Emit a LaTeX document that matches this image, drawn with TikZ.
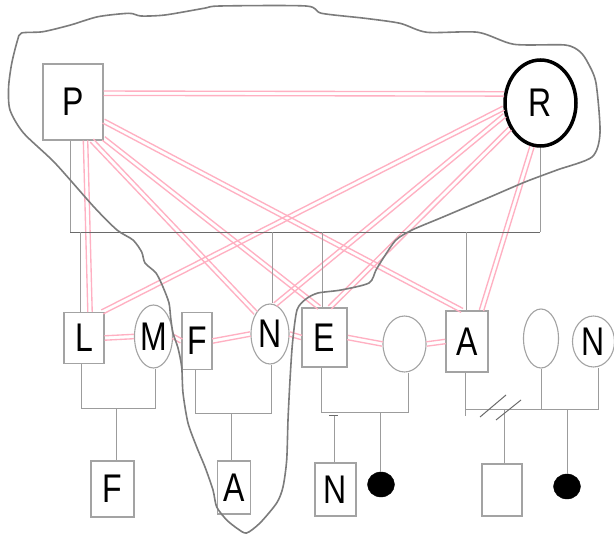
\documentclass[tikz,border=0pt]{standalone}
\usepackage{fontspec}
\newfontfamily\labfont[FakeStretch=0.8]{Liberation Sans}
\usetikzlibrary{calc,shapes.geometric}
\definecolor{boxgray}{HTML}{A3A3A3}
\definecolor{kingray}{HTML}{9C9C9C}
\definecolor{darkline}{HTML}{6A6A6A}
\definecolor{outlinegray}{HTML}{7C7C7C}
\definecolor{relpink}{HTML}{FFB0C2}
\tikzset{
  person/.style={draw=boxgray, line width=1.1pt, fill=white, inner sep=0pt,
    font=\labfont\fontsize{40}{40}\selectfont, text=black},
  malebox/.style={person, rectangle},
  femaleell/.style={person, ellipse},
  blackdot/.style={ellipse, draw=black, fill=black, inner sep=0pt},
  rel/.style={draw=relpink, line width=1.35pt},
  kin/.style={draw=kingray, line width=1pt},
  hubline/.style={draw=darkline, line width=1pt},
  hull/.style={draw=outlinegray, line width=1.6pt, line join=round},
}
\newcommand\relline[2]{%
  \draw[rel] ($(#1)!2.2pt!90:(#2)$) -- ($(#2)!2.2pt!-90:(#1)$);
  \draw[rel] ($(#1)!2.2pt!-90:(#2)$) -- ($(#2)!2.2pt!90:(#1)$);}
\begin{document}
\begin{tikzpicture}[x=1pt,y=-1pt]
\useasboundingbox (0,0) rectangle (614,535);
\fill[white] (0,0) rectangle (614,535);
% nodes
\node[malebox, minimum width=60, minimum height=76] (P) at (73,102) {P};
\node[ellipse, draw=black, line width=3.5pt, fill=white, inner sep=0pt,
  minimum width=71, minimum height=86, font=\labfont\fontsize{40}{40}\selectfont] (R) at (540.5,103) {R};
\node[malebox, minimum width=40, minimum height=51] (L) at (84,338) {L};
\node[femaleell, minimum width=38, minimum height=63] (M) at (153.5,336.5) {M};
\node[malebox, minimum width=30, minimum height=57] (F) at (197,341) {F};
\node[femaleell, minimum width=38, minimum height=60] (N1) at (270,334) {N};
\node[malebox, minimum width=45, minimum height=59] (E) at (324.5,337.5) {E};
\node[femaleell, minimum width=43, minimum height=56] (W1) at (404.5,344) {};
\node[malebox, minimum width=42, minimum height=61] (A) at (467,341.5) {A};
\node[femaleell, minimum width=35, minimum height=59] (W2) at (541,338.5) {};
\node[femaleell, minimum width=42, minimum height=51] (N2) at (593.5,341.5) {N};
\node[malebox, minimum width=43, minimum height=56] (F2) at (112.5,489) {F};
\node[malebox, minimum width=33, minimum height=53] (A2) at (234,487.5) {A};
\node[malebox, minimum width=41, minimum height=53] (N3) at (335.5,489.5) {N};
\node[blackdot, minimum width=27, minimum height=25] (D1) at (381,484.5) {};
\node[malebox, minimum width=40, minimum height=52] (B) at (502,490) {};
\node[blackdot, minimum width=27, minimum height=25] (D2) at (567,486.5) {};
% relationship double lines
\relline{P.16}{R.166}
\relline{P.-72}{L.77}
\relline{P.-64}{N1.124}
\relline{P.-50}{E.100}
\relline{P.-32}{A.99}
\relline{R.188}{L.55}
\relline{R.199}{N1.80}
\relline{R.220}{E.80}
\relline{R.259}{A.65}
\relline{L.east}{M.west}
\relline{M.east}{F.west}
\relline{F.east}{N1.west}
\relline{N1.east}{E.west}
\relline{E.east}{W1.west}
\relline{W1.east}{A.west}
% family of P and R
\coordinate (hubL) at (70,232);
\coordinate (hubR) at (540,232);
\draw[kin] (hubL |- P.south) -- (hubL);
\draw[kin] (hubR |- R.south) -- (hubR);
\draw[hubline] (hubL) -- (hubR);
\coordinate (dL) at (80,232);
\coordinate (dN) at (272,232);
\coordinate (dE) at (322,232);
\coordinate (dA) at (466,232);
\draw[kin] (dL) -- (dL |- L.north);
\draw[kin] (dN) -- (dN |- N1.north);
\draw[kin] (dE) -- (dE |- E.north);
\draw[kin] (dA) -- (dA |- A.north);
% L + M
\coordinate (lmA) at (81.5,408.5);
\coordinate (lmB) at (155.5,408.5);
\draw[kin] (lmA |- L.south) -- (lmA) -- (lmB) -- (lmB |- M.south);
\coordinate (cLM) at (116,408.5);
\draw[kin] (cLM) -- (cLM |- F2.north);
% F + N
\coordinate (fnA) at (195,413);
\coordinate (fnB) at (271,413);
\draw[kin] (fnA |- F.south) -- (fnA) -- (fnB) -- (fnB |- N1.south);
\coordinate (cFN) at (231,413);
\draw[kin] (cFN) -- (cFN |- A2.north);
% E + W1
\coordinate (ewA) at (321,412);
\coordinate (ewB) at (408.5,412);
\draw[kin] (ewA |- E.south) -- (ewA) -- (ewB) -- (ewB |- W1.south);
\coordinate (tkA) at (329,415.5);
\coordinate (tkB) at (338,415.5);
\draw[hubline, line width=1.3pt] (tkA) -- (tkB);
\coordinate (cEN) at (334.5,415.5);
\draw[kin] (cEN) -- (cEN |- N3.north);
\coordinate (cED) at (380,412);
\draw[kin] (cED) -- (cED |- D1.north);
% A + W2 + N2
\coordinate (aA) at (465,409);
\coordinate (aLow) at (465,416);
\coordinate (aW) at (541,409);
\coordinate (aN) at (598,409);
\draw[kin] (aA |- A.south) -- (aLow);
\draw[kin] (aA) -- (aN) -- (aN |- N2.south);
\draw[kin] (aW) -- (aW |- W2.south);
\coordinate (cAB) at (504,409);
\draw[kin] (cAB) -- (cAB |- B.north);
\coordinate (cAD) at (567,409);
\draw[kin] (cAD) -- (cAD |- D2.north);
\coordinate (s1a) at (480,417);
\coordinate (s1b) at (506,395);
\coordinate (s2a) at (496,420);
\coordinate (s2b) at (521,400);
\draw[hubline] (s1a) -- (s1b);
\draw[hubline] (s2a) -- (s2b);
% household boundary
\draw[hull] plot[smooth cycle, tension=0.45] coordinates {
 (21.6,33) (43,31.7) (70.6,25) (98,16.7) (129,13.3) (141,16) (165,15) (204,8.3)
 (220,6) (306,6) (321.6,13.3) (365,18.3) (400,23.3) (427,32.3) (478,32.3)
 (514,44.3) (565,45) (580,51.7) (588,63) (596,83) (600,133) (592,157) (557,170)
 (525,182) (490,197) (443,217) (412,230) (396,240) (384,257) (376,270) (369,283)
 (341,290) (318,293) (306,299) (297,310) (292.5,343) (290,380) (288,420)
 (286.7,460) (283,487) (276.7,503) (260,523) (246.7,533) (238,529) (226.7,520)
 (216.7,507) (213,490) (205,467) (196.7,447) (188,423) (183,393) (181.7,367)
 (178,348) (173,333) (170.7,318) (169,303) (163,287) (156,273) (145,263)
 (141.7,252) (133,240) (117,230) (94,207) (55,163) (23.5,133) (10,110) (8.6,87)
 (11.8,63) (17.6,40)};
\end{tikzpicture}
\end{document}
